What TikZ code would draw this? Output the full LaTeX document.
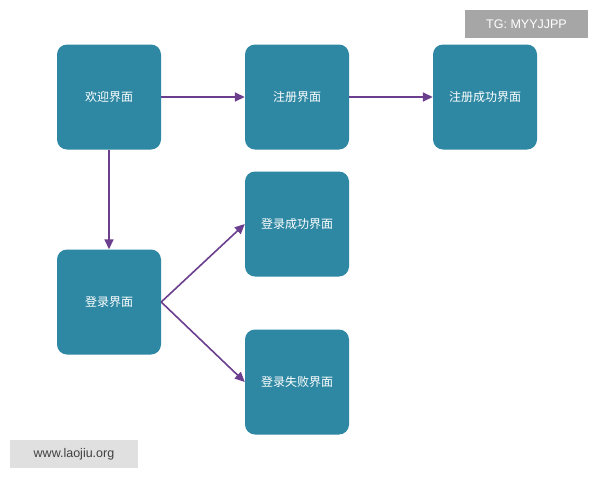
\documentclass[tikz,border=0pt]{standalone}
\usepackage{fontspec}
\newfontfamily\cjk{Noto Sans CJK SC}
\setmainfont{Liberation Sans}
\usetikzlibrary{arrows.meta}
\definecolor{boxc}{HTML}{2E88A3}
\definecolor{arr}{HTML}{6B3F8E}
\begin{document}
\begin{tikzpicture}[x=1pt,y=-1pt,
  box/.style={fill=boxc,rounded corners=10pt,minimum width=104pt,minimum height=105pt,text=white,font=\cjk\fontsize{12}{14}\selectfont,inner sep=0pt},
  con/.style={draw=arr,line width=1.6pt,-{Triangle[length=10pt,width=9pt]}}]
\useasboundingbox[fill=white] (0,0) rectangle (600,480);
\node[box] (w) at (109,97) {欢迎界面};
\node[box] (r) at (297,97) {注册界面};
\node[box] (rs) at (485,97) {注册成功界面};
\node[box] (l) at (109,302) {登录界面};
\node[box] (ls) at (297,224) {登录成功界面};
\node[box] (lf) at (297,382) {登录失败界面};
\draw[con] (w.east) -- (r.west);
\draw[con] (r.east) -- (rs.west);
\draw[con] (w.south) -- (l.north);
\draw[con] (l.east) -- (ls.west);
\draw[con] (l.east) -- (lf.west);
\node[fill=black!35,text=white,minimum width=123pt,minimum height=28pt,font=\fontsize{12.5}{14}\selectfont] (tg) at (526.5,24) {TG: MYYJJPP};
\node[fill=black!12,text=black!75,minimum width=128pt,minimum height=28pt,font=\fontsize{12.5}{14}\selectfont] (wm) at (74,454) {www.laojiu.org};
\end{tikzpicture}
\end{document}
